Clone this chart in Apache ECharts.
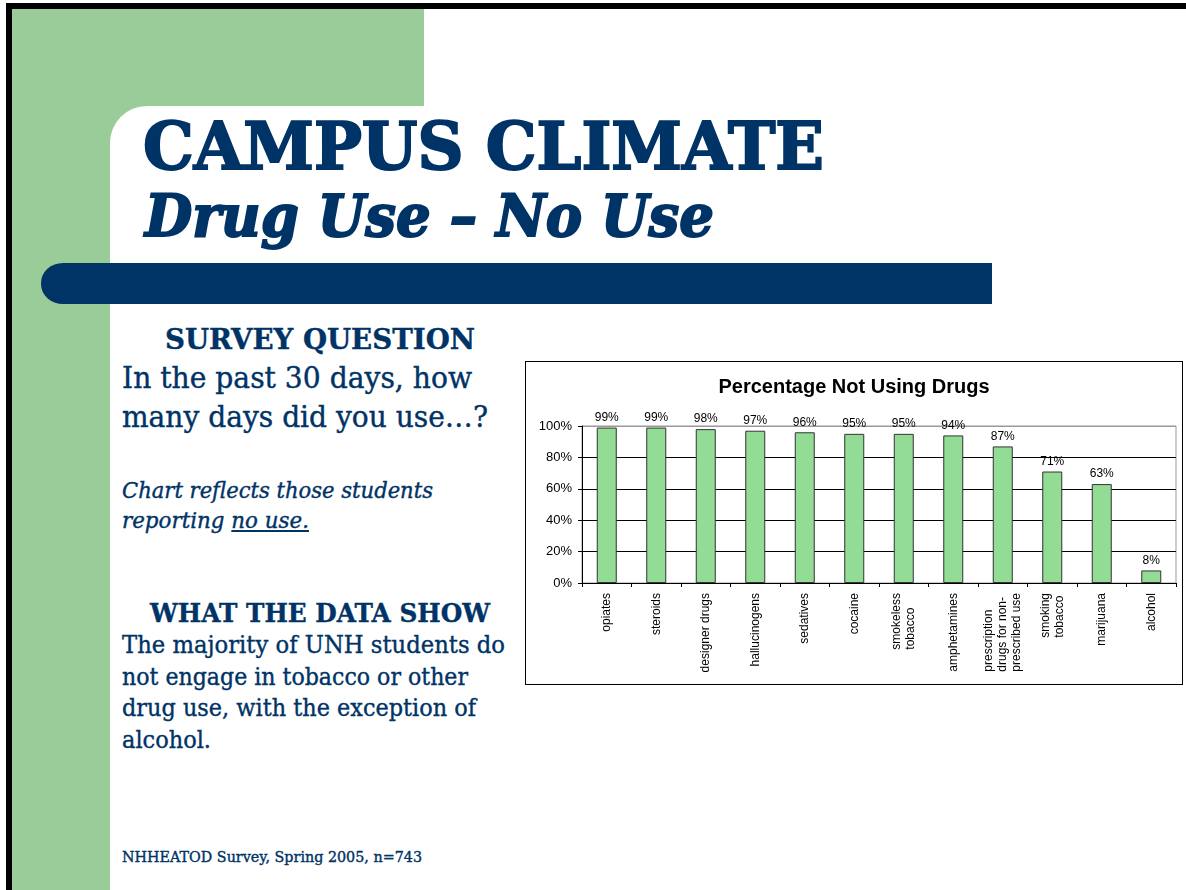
<!DOCTYPE html>
<html>
<head>
<meta charset="utf-8">
<script src="https://cdn.jsdelivr.net/npm/echarts@6/dist/echarts.min.js"></script>
<style>
  html, body { margin: 0; padding: 0; background: #fff; }
  body { width: 1186px; height: 890px; position: relative; overflow: hidden; }
  .abs { position: absolute; }
  .t { position: absolute; white-space: nowrap; color: #003366; font-family: "DejaVu Serif", serif; line-height: 1; transform-origin: 0 0; -webkit-text-stroke: 0.4px #003366; }
  .b { font-weight: bold; -webkit-text-stroke: 0.4px #003366; }
  .i { font-style: italic; }
  .h { -webkit-text-stroke: 2px #003366; }
</style>
</head>
<body>
<!-- slide decorations -->
<div class="abs" style="left:6px;top:3px;width:1180px;height:6px;background:#000"></div>
<div class="abs" style="left:6px;top:3px;width:6px;height:887px;background:#000"></div>
<div class="abs" style="left:12px;top:9px;width:412px;height:97px;background:#99cc99"></div>
<div class="abs" style="left:12px;top:9px;width:98px;height:881px;background:#99cc99"></div>
<div class="abs" style="left:110px;top:106px;width:40px;height:40px;background:#99cc99"></div>
<div class="abs" style="left:110px;top:106px;width:200px;height:120px;background:#fff;border-top-left-radius:37px"></div>
<div class="abs" style="left:41px;top:263px;width:951px;height:41px;background:#003366;border-radius:22px 0 0 22px / 20px 0 0 20px"></div>

<div class="t b h" data-w="681" style="left:143px;top:113px;font-size:66px">CAMPUS CLIMATE</div>
<div class="t b i h" data-w="569" style="left:145px;top:187px;font-size:57px">Drug Use – No Use</div>

<div class="t b" data-w="310" style="left:165px;top:326px;font-size:28px">SURVEY QUESTION</div>
<div class="t" data-w="350" style="left:122px;top:364px;font-size:29px">In the past 30 days, how</div>
<div class="t" data-w="366" style="left:122px;top:403px;font-size:29px">many days did you use…?</div>
<div class="t i" data-w="311" style="left:122px;top:480px;font-size:22px">Chart reflects those students</div>
<div class="t i" data-w="187" style="left:122px;top:510px;font-size:22px">reporting <span style="text-decoration:underline">no use.</span></div>

<div class="t b" data-w="340" style="left:150px;top:600px;font-size:26px">WHAT THE DATA SHOW</div>
<div class="t" data-w="383" style="left:122px;top:632px;font-size:25px">The majority of UNH students do</div>
<div class="t" data-w="346" style="left:122px;top:664px;font-size:25px">not engage in tobacco or other</div>
<div class="t" data-w="354" style="left:122px;top:695px;font-size:25px">drug use, with the exception of</div>
<div class="t" data-w="89" style="left:122px;top:727px;font-size:25px">alcohol.</div>

<div class="t" data-w="300" style="left:122px;top:850px;font-size:15px">NHHEATOD Survey, Spring 2005, n=743</div>

<div class="abs" style="left:525px;top:361px;width:658px;height:324px;box-sizing:border-box;border:1px solid #000;background:#fff">
  <div id="chart" style="width:656px;height:322px"></div>
</div>

<script>
// ---- data ----
const chartTitle = 'Percentage Not Using Drugs';
const categories = [
  'opiates', 'steroids', 'designer drugs', 'hallucinogens', 'sedatives', 'cocaine',
  'smokeless\ntobacco', 'amphetamines', 'prescription\ndrugs for non-\nprescribed use',
  'smoking\ntobacco', 'marijuana', 'alcohol'
];
const percentNotUsing = [99, 99, 98, 97, 96, 95, 95, 94, 87, 71, 63, 8];
const yMin = 0, yMax = 100, yStep = 20;

// fit slide text widths
document.querySelectorAll('.t[data-w]').forEach(el => {
  const target = parseFloat(el.dataset.w);
  const w = el.getBoundingClientRect().width;
  if (w > 0) el.style.transform = 'scaleX(' + (target / w) + ')';
});

const chart = echarts.init(document.getElementById('chart'), null, { renderer: 'canvas' });
const font = '"Liberation Sans", Arial, sans-serif';
chart.setOption({
  animation: false,
  title: {
    text: chartTitle, left: 'center', top: 10,
    textStyle: { fontFamily: font, fontSize: 20, fontWeight: 'bold', color: '#000' }
  },
  grid: { left: 56, right: 6, top: 64, bottom: 101, show: true, borderColor: '#999', borderWidth: 1, backgroundColor: 'transparent' },
  xAxis: {
    type: 'category', data: categories,
    axisLine: { lineStyle: { color: '#000', width: 1 } },
    axisTick: { show: true, alignWithLabel: false, length: 4, lineStyle: { color: '#000' } },
    axisLabel: {
      interval: 0, rotate: 90, margin: 10, color: '#000', fontFamily: font, fontSize: 12, lineHeight: 14,
      formatter: v => v.split('\n').map(s => '{l|' + s + '}').join('\n'),
      rich: { l: { align: 'left', fontFamily: font, fontSize: 12, lineHeight: 14, color: '#000' } }
    }
  },
  yAxis: {
    type: 'value', min: yMin, max: yMax, interval: yStep,
    axisLine: { show: true, lineStyle: { color: '#000', width: 1 } },
    axisTick: { show: true, length: 4, lineStyle: { color: '#000' } },
    axisLabel: { formatter: '{value}%', color: '#000', fontFamily: font, fontSize: 13, margin: 10 },
    splitLine: { show: true, lineStyle: { color: ['#000', '#000', '#000', '#000', '#000', '#999'], width: 1 } }
  },
  series: [{
    type: 'bar', data: percentNotUsing, barWidth: 20,
    itemStyle: { color: '#92dc96', borderColor: '#333', borderWidth: 1 },
    label: { show: true, position: 'top', distance: 4, formatter: '{c}%', color: '#000', fontFamily: font, fontSize: 12 }
  }]
});
</script>
</body>
</html>
